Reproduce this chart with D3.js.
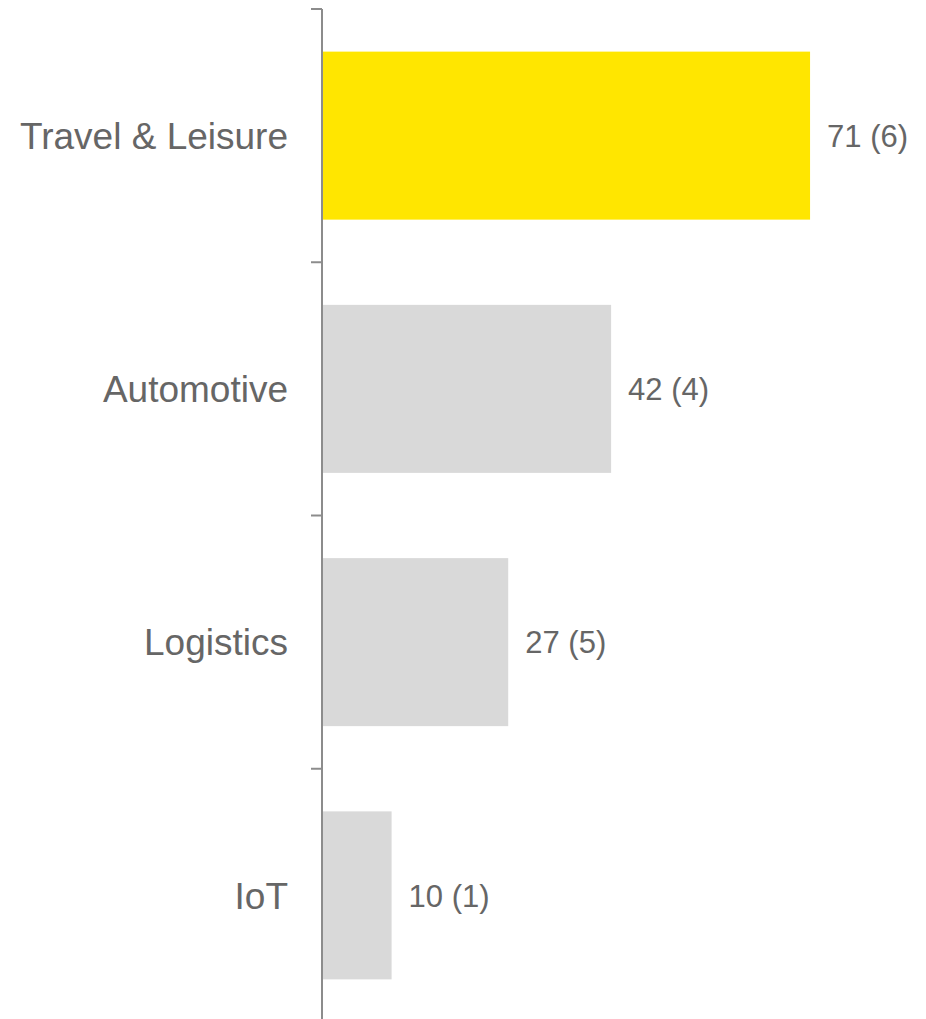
<!DOCTYPE html>
<html>
<head>
<meta charset="utf-8">
<script src="https://cdn.jsdelivr.net/npm/d3@7"></script>
<style>
  html, body { margin: 0; padding: 0; background: #fff; }
  svg { display: block; }
</style>
</head>
<body>
<svg id="chart" width="926" height="1019"></svg>
<script>
const categories = ["Travel & Leisure", "Automotive", "Logistics", "IoT"];
const values = [71, 42, 27, 10];
const counts = [6, 4, 5, 1];
const highlight = [true, false, false, false];

const svg = d3.select("#chart");
const axisX = 322;

const y = d3.scaleBand()
  .domain(categories)
  .range([9, 9 + 4 * 253.25])
  .paddingInner(0.3366)
  .paddingOuter(0.1683);

const x = d3.scaleLinear()
  .domain([0, 100])
  .range([323, 323 + 686]);

const data = categories.map((c, i) => ({ c, v: values[i], n: counts[i], h: highlight[i] }));

// bars
svg.selectAll("rect.bar")
  .data(data)
  .join("rect")
  .attr("class", "bar")
  .attr("x", x(0))
  .attr("y", d => y(d.c))
  .attr("width", d => x(d.v) - x(0))
  .attr("height", y.bandwidth())
  .attr("fill", d => d.h ? "#ffe600" : "#d9d9d9");

// axis line and ticks at band boundaries
const r = y.range();
svg.append("line")
  .attr("x1", axisX).attr("x2", axisX)
  .attr("y1", r[0]).attr("y2", r[1])
  .attr("stroke", "#8c8c8c").attr("stroke-width", 2);

const bounds = d3.range(categories.length + 1).map(i => r[0] + i * y.step());
svg.selectAll("line.tick")
  .data(bounds)
  .join("line")
  .attr("class", "tick")
  .attr("x1", axisX - 11).attr("x2", axisX)
  .attr("y1", d => d).attr("y2", d => d)
  .attr("stroke", "#8c8c8c").attr("stroke-width", 2);

// category labels
svg.selectAll("text.cat")
  .data(data)
  .join("text")
  .attr("class", "cat")
  .attr("x", 288)
  .attr("y", d => y(d.c) + y.bandwidth() / 2)
  .attr("dy", "0.36em")
  .attr("text-anchor", "end")
  .attr("font-family", "'Liberation Sans', Arial, sans-serif")
  .attr("font-size", 37)
  .attr("fill", "#666666")
  .text(d => d.c);

// value labels
svg.selectAll("text.val")
  .data(data)
  .join("text")
  .attr("class", "val")
  .attr("x", d => x(d.v) + 17)
  .attr("y", d => y(d.c) + y.bandwidth() / 2)
  .attr("dy", "0.36em")
  .attr("font-family", "'Liberation Sans', Arial, sans-serif")
  .attr("font-size", 31)
  .attr("fill", "#666666")
  .text(d => `${d.v} (${d.n})`);
</script>
</body>
</html>
